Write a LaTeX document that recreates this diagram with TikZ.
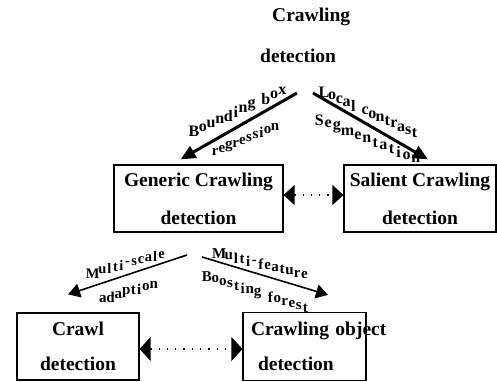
\documentclass[tikz,border=0pt]{standalone}
\usepackage{fontspec}
\setmainfont{Liberation Serif}
\usetikzlibrary{arrows.meta,decorations.text}

\tikzset{
	box/.style={draw,line width=1.2pt,minimum height=67pt,inner sep=0pt,align=center},
	bigflow/.style={line width=3pt,-{Triangle[length=15pt,width=13pt]}},
	smallflow/.style={line width=1.6pt,-{Triangle[length=12pt,width=14pt]}},
	dotflow/.style={line width=1.3pt,dash pattern=on 1.3pt off 7pt,{Triangle[length=11pt,width=#1]}-{Triangle[length=11pt,width=#1]}},
	stair/.style 2 args={decorate,decoration={text effects along path,text={#2},
		text effects/.cd,fit text to path,characters={font=\bfseries\fontsize{#1}{#1}\selectfont}}},
}

\begin{document}
\begin{tikzpicture}[x=1pt,y=-1pt,font=\bfseries]
	\useasboundingbox[fill=white] (0,0) rectangle (497,381);
	% top of the tree
	\node (top) [anchor=north west,inner sep=0pt,align=left,font=\bfseries\fontsize{19.5}{41}\selectfont] at (260,8) {\hspace*{12pt}Crawling\\detection};
	\coordinate (tl) at (297,93);
	\coordinate (tr) at (313,93);
	% second level
	\node (gen) [box,minimum width=169pt,font=\bfseries\fontsize{19.5}{38}\selectfont] at (198.5,198.5) {Generic Crawling\\detection};
	\node (sal) [box,minimum width=152pt,font=\bfseries\fontsize{19.5}{38}\selectfont] at (420,198.5) {Salient Crawling\\detection};
	\coordinate (bl) at (187,255);
	\coordinate (br) at (202,257);
	% third level
	\node (crawl) [box,minimum width=122pt,font=\bfseries\fontsize{19.5}{35}\selectfont] at (78,346.5) {Crawl\\detection};
	\node (obj) [box,minimum height=68pt,text width=107pt,inner xsep=8pt,align=left,font=\bfseries\fontsize{19.5}{35}\selectfont] at (304.5,346.5) {\mbox{Crawling object}\\\hspace*{7pt}detection};

	\draw [bigflow] (tl) -- ([xshift=-18pt,yshift=5pt]gen.north);
	\draw [bigflow] (tr) -- ([xshift=8pt,yshift=5pt]sal.north);
	\draw [smallflow] (bl) -- ([xshift=-10pt,yshift=18pt]crawl.north);
	\draw [smallflow] (br) -- ([xshift=23.5pt,yshift=17pt]obj.north);
	\draw [dotflow=20pt] ([yshift=3.5pt]gen.east) -- ([yshift=3.5pt]sal.west);
	\draw [dotflow=24pt] ([yshift=-2.5pt]crawl.east) -- ([yshift=-2.5pt]obj.west);

	% method names on the branches
	\path [stair={16}{Bounding box}] (186,135) -- (289,88);
	\path [stair={15}{regression}] (209,155) -- (282,124);
	\path [stair={16}{Local contrast}] (316,89) -- (420,136);
	\path [stair={16}{Segmentation}] (312,117) -- (423,162);
	\path [stair={14.5}{Multi-scale}] (83,276) -- (168,253);
	\path [stair={15}{adaption}] (96,301) -- (161,283);
	\path [stair={15}{Multi-feature}] (209,251) -- (311,277);
	\path [stair={15}{Boosting forest}] (199,274) -- (311,310);
\end{tikzpicture}
\end{document}
